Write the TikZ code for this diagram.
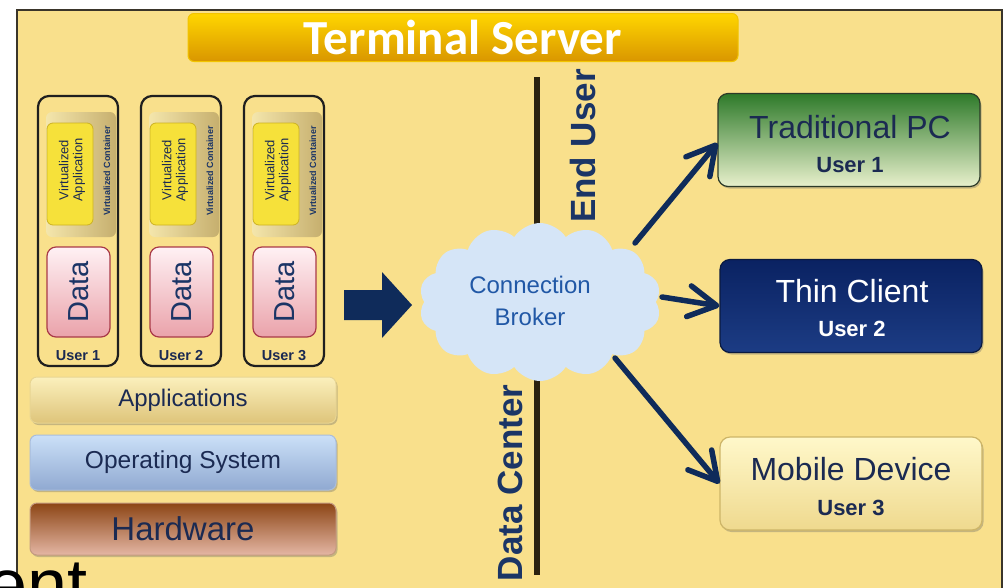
\documentclass[tikz,border=0pt]{standalone}
\usepackage{fontspec}
\setmainfont{Liberation Sans}
\newfontfamily\headfont{Carlito}
\usetikzlibrary{shapes.symbols,arrows.meta,shadows,calc}

\definecolor{panelbg}{HTML}{F9E08C}
\definecolor{panelline}{HTML}{3A352A}
\definecolor{titletop}{HTML}{FFD600}
\definecolor{titlebot}{HTML}{D99600}
\definecolor{titleline}{HTML}{F2C400}
\definecolor{inknavy}{HTML}{1B2A52}
\definecolor{labelnavy}{HTML}{1B3566}
\definecolor{brokerblue}{HTML}{2158A6}
\definecolor{arrownavy}{HTML}{0F2B5A}
\definecolor{divline}{HTML}{2B2210}
\definecolor{contleft}{HTML}{F4E6AC}
\definecolor{contright}{HTML}{C6AF6E}
\definecolor{vafill}{HTML}{F6E13A}
\definecolor{valine}{HTML}{CDB222}
\definecolor{datatop}{HTML}{FFF1F4}
\definecolor{databot}{HTML}{EAA2AA}
\definecolor{dataline}{HTML}{A93A48}
\definecolor{apptop}{HTML}{FBF0BC}
\definecolor{appbot}{HTML}{DEC47A}
\definecolor{appline}{HTML}{E8D592}
\definecolor{ostop}{HTML}{CBE0F8}
\definecolor{osbot}{HTML}{90A9D1}
\definecolor{osline}{HTML}{A9BDDC}
\definecolor{hwtop}{HTML}{8C4515}
\definecolor{hwbot}{HTML}{E4B6A4}
\definecolor{hwline}{HTML}{C49A80}
\definecolor{pctop}{HTML}{2E7A2A}
\definecolor{pcbot}{HTML}{E8F0CC}
\definecolor{pcline}{HTML}{2C3A28}
\definecolor{thintop}{HTML}{0A2262}
\definecolor{thinbot}{HTML}{1C3C84}
\definecolor{thinline}{HTML}{0A1A40}
\definecolor{mobtop}{HTML}{FFF8CA}
\definecolor{mobbot}{HTML}{EFD98E}
\definecolor{mobline}{HTML}{CDB568}
\definecolor{cloudfill}{HTML}{D5E5F7}

\tikzset{
  softshadow/.style={drop shadow={shadow xshift=1.5pt,shadow yshift=-2pt,opacity=0.35,fill=black!60}},
  titlebar/.style={minimum width=550pt,minimum height=48pt,inner sep=0pt,
    rounded corners=6pt,top color=titletop,bottom color=titlebot,draw=titleline,line width=1pt,
    text=white,font=\headfont\bfseries\fontsize{49}{49}\selectfont},
  usercol/.style={minimum width=80pt,minimum height=270pt,inner sep=0pt,
    rounded corners=11pt,draw=black!88,line width=2.2pt},
  container/.style={minimum width=70pt,minimum height=125pt,inner sep=0pt,
    rounded corners=6pt,left color=contleft,right color=contright},
  vapp/.style={minimum width=46pt,minimum height=102pt,inner sep=0pt,
    rounded corners=6pt,fill=vafill,draw=valine,line width=0.8pt},
  valabel/.style={rotate=90,align=center,text=inknavy,inner sep=0pt,
    font=\fontsize{13}{14}\selectfont},
  vclabel/.style={rotate=90,text=labelnavy,inner sep=0pt,
    font=\bfseries\fontsize{9}{9}\selectfont},
  databox/.style={minimum width=63pt,minimum height=90pt,inner sep=0pt,
    rounded corners=9pt,top color=datatop,bottom color=databot,draw=dataline,line width=1.2pt},
  datalabel/.style={rotate=90,text=labelnavy,inner sep=0pt,
    font=\fontsize{29}{29}\selectfont},
  userlabel/.style={text=inknavy,inner sep=0pt,font=\bfseries\fontsize{14.5}{15}\selectfont},
  layer/.style={minimum width=306pt,inner sep=0pt,rounded corners=7pt,line width=1pt,
    softshadow,text=inknavy},
  devbox/.style={minimum width=262pt,minimum height=93pt,inner sep=0pt,
    rounded corners=10pt,line width=1.2pt,softshadow},
  devname/.style={anchor=base,inner sep=0pt,font=\fontsize{32}{32}\selectfont},
  devuser/.style={anchor=base,inner sep=0pt,font=\bfseries\fontsize{22}{22}\selectfont},
  side/.style={rotate=90,text=labelnavy,inner sep=0pt,font=\bfseries\fontsize{35}{35}\selectfont},
  conn/.style={draw=arrownavy,line width=5.5pt,line cap=round,line join=round,
    -{Straight Barb[length=28pt,width=31pt,line cap=round,line join=round]}},
}

\begin{document}
\begin{tikzpicture}[x=1pt,y=-1pt]
\useasboundingbox (0,0) rectangle (1006,587);
\clip (0,0) rectangle (1006,587);

% background panel
\fill[white] (0,0) rectangle (1006,587);
\fill[panelbg] (17,10) rectangle (1002,600);
\draw[panelline,line width=1.3pt] (17,600) |- (1002,10) -- (1002,600);

% heading
\node[titlebar] (title) at (463,37.5) {Terminal Server};

% the three user columns
\foreach \i/\cx in {1/78,2/181,3/284}{
  \node[usercol] (col\i) at (\cx,231) {};
  \node[container] (cont\i) at (\cx+3,174.5) {};
  \node[vapp] (va\i) at (\cx-8,174) {};
  \node[valabel] (val\i) at (\cx-6,170) {Virtualized\\Application};
  \node[vclabel] (vcl\i) at (\cx+29,171) {Virtualized Container};
  \node[databox] (data\i) at (\cx+0.5,292) {};
  \node[datalabel] (dtxt\i) at (data\i) {Data};
  \node[userlabel] (user\i) at (\cx,356) {User \i};
}

% shared layers
\node[layer,minimum height=46pt,top color=apptop,bottom color=appbot,draw=appline,
  font=\fontsize{24}{24}\selectfont] (apps) at (183,400) {Applications};
\node[layer,minimum height=55pt,top color=ostop,bottom color=osbot,draw=osline,
  font=\fontsize{24.5}{25}\selectfont] (os) at (183,462.5) {Operating System};
\node[layer,minimum height=52pt,top color=hwtop,bottom color=hwbot,draw=hwline,
  font=\fontsize{33}{33}\selectfont] (hw) at (183,529) {Hardware};

% block arrow towards the broker
\fill[arrownavy] (344,290) -- (382,290) -- (382,272) -- (412,305)
  -- (382,338) -- (382,320) -- (344,320) -- cycle;

% data centre / end user divide
\coordinate (divtop) at (537,77);
\coordinate (divbot) at (537,575);
\draw[divline,line width=6pt] (divtop) -- (divbot);
\node[side] (enduser) at (583,146) {End User};
\node[side] (datacenter) at (510,483) {Data Center};

% connection broker
\node[cloud,cloud puffs=14,cloud puff arc=115,cloud ignores aspect,
  minimum width=242pt,minimum height=158pt,inner sep=0pt,fill=cloudfill] (broker) at (540,302) {};
\node[anchor=base,inner sep=0pt,text=brokerblue,font=\fontsize{24}{24}\selectfont] (brk1) at (530,293) {Connection};
\node[anchor=base,inner sep=0pt,text=brokerblue,font=\fontsize{24}{24}\selectfont] (brk2) at (530,325) {Broker};

% end-user devices
\node[devbox,top color=pctop,bottom color=pcbot,draw=pcline] (pc) at (849,140) {};
\node[devname,text=inknavy] (pcname) at (850,138) {Traditional PC};
\node[devuser,text=inknavy] (pcuser) at (850,172) {User 1};

\node[devbox,top color=thintop,bottom color=thinbot,draw=thinline] (thin) at (851,306) {};
\node[devname,text=white] (thinname) at (852,302) {Thin Client};
\node[devuser,text=white] (thinuser) at (852,336) {User 2};

\node[devbox,top color=mobtop,bottom color=mobbot,draw=mobline] (mob) at (851,483.5) {};
\node[devname,text=inknavy] (mobname) at (851,480) {Mobile Device};
\node[devuser,text=inknavy] (mobuser) at (851,515) {User 3};

% links from the broker
\coordinate (outpc) at (635,243);
\coordinate (outthin) at (662,297);
\coordinate (outmob) at (615,358);
\draw[conn] (outpc) -- ([yshift=-3pt]pc.west);
\draw[conn] (outthin) -- (thin.west);
\draw[conn] (outmob) -- (mob.west);

% trailing word at the lower left, running off the page
\node[anchor=base east,inner sep=0pt,text=black,font=\fontsize{72}{72}\selectfont] (tail) at (88,609) {ent};
\end{tikzpicture}
\end{document}
